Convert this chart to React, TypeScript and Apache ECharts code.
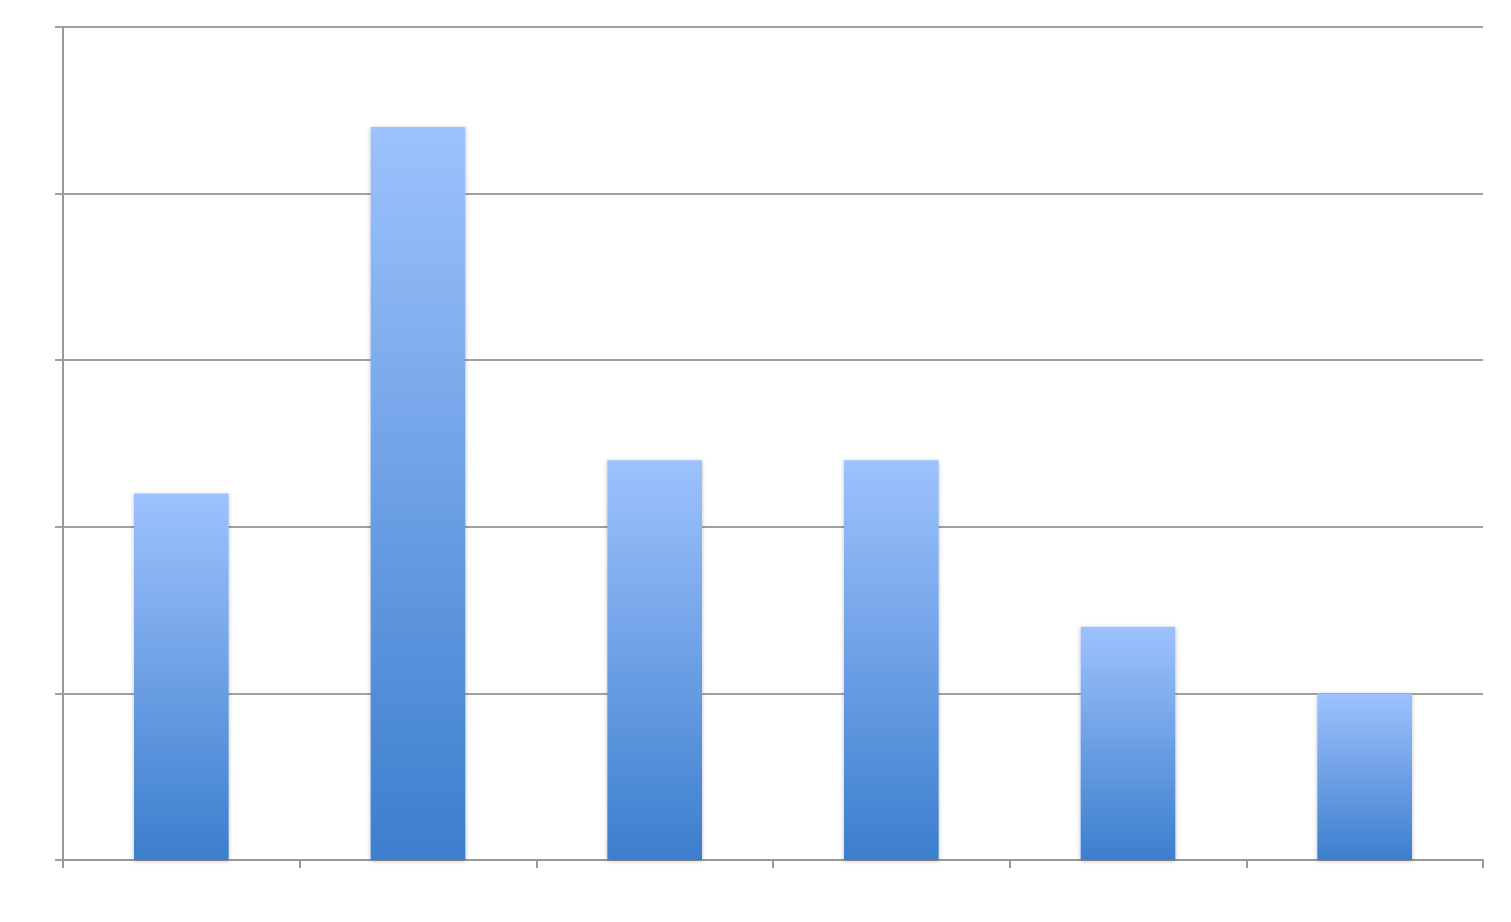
import React, { useEffect, useRef } from "react";
import * as echarts from "echarts";

const categories = ["1", "2", "3", "4", "5", "6"];
const values = [2.2, 4.4, 2.4, 2.4, 1.4, 1.0];
const yTicks = [0, 1, 2, 3, 4, 5];

export default function App() {
  const ref = useRef<HTMLDivElement>(null);
  useEffect(() => {
    if (!ref.current) return;
    const chart = echarts.init(ref.current, undefined, { renderer: "svg" });
    chart.setOption({
      animation: false,
      backgroundColor: "#ffffff",
      grid: { left: 63, right: 28, top: 27, bottom: 62 },
      xAxis: {
        type: "category",
        data: categories,
        boundaryGap: true,
        axisLine: { show: true, lineStyle: { color: "#999999", width: 2 } },
        axisTick: { show: true, length: 8, lineStyle: { color: "#999999", width: 2 } },
        axisLabel: { show: false },
      },
      yAxis: {
        type: "value",
        min: yTicks[0],
        max: yTicks[yTicks.length - 1],
        interval: 1,
        axisLine: { show: true, lineStyle: { color: "#999999", width: 2 } },
        axisTick: { show: true, length: 8, lineStyle: { color: "#a0a0a0", width: 2 } },
        axisLabel: { show: false },
        splitLine: { show: true, lineStyle: { color: "#a0a0a0", width: 2 } },
      },
      series: [
        {
          type: "bar",
          data: values,
          barWidth: "40%",
          itemStyle: {
            color: new echarts.graphic.LinearGradient(0, 0, 0, 1, [
              { offset: 0, color: "#9dc2fd" },
              { offset: 1, color: "#3c7ecd" },
            ]),
            shadowColor: "rgba(0,0,0,0.25)",
            shadowBlur: 4,
            shadowOffsetX: 0,
            shadowOffsetY: 1,
          },
        },
      ],
    });
    return () => chart.dispose();
  }, []);
  return (
    <div
      ref={ref}
      style={{ position: "absolute", left: 0, top: 0, width: 1511, height: 922 }}
    />
  );
}
